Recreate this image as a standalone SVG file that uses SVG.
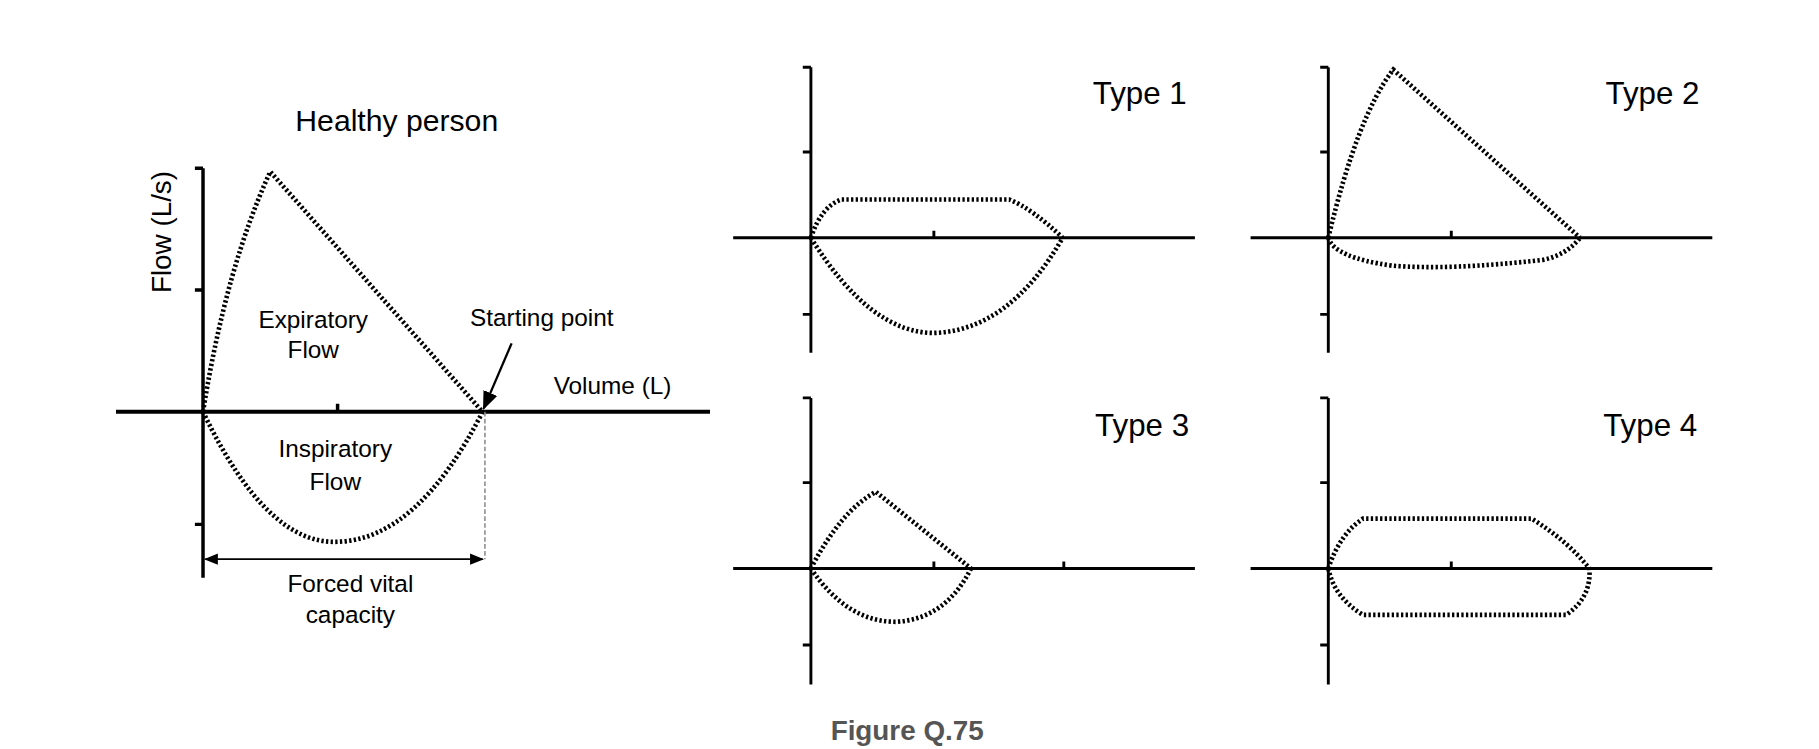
<svg xmlns="http://www.w3.org/2000/svg" width="1819" height="749" viewBox="0 0 1819 749">
<style>
text{font-family:"Liberation Sans",Arial,sans-serif;fill:#000}
.ax{stroke:#000;stroke-width:2.5;fill:none}
.cv{stroke:#000;stroke-width:4;stroke-dasharray:2 2;fill:none}
.t{font-size:21px;text-anchor:middle}
.ty{font-size:27px;text-anchor:end}
</style>
<defs>
<marker id="ah" viewBox="0 0 10 10" refX="9" refY="5" markerWidth="8" markerHeight="8" orient="auto-start-reverse"><path d="M0,1 L10,5 L0,9 z" fill="#000"/></marker>
</defs>
<rect width="1819" height="749" fill="#fff"/>
<g transform="scale(1.1601)">
<g id="healthy">
<path class="ax" d="M175,145V498M168,145H175M168,250H175M168,452H175M291,355V348" style="stroke-width:3"/>
<path d="M100,355H612" stroke="#000" stroke-width="3.5"/>
<path class="cv" d="M175,355 Q195,230 233,148 L416,355"/>
<path class="cv" d="M175,355 Q230,470 291,467 Q360,465 416,355"/>
<path d="M418,355V482" stroke="#888" stroke-width="1.3" stroke-dasharray="4 2"/>
<text class="t" x="342" y="113" style="font-size:26px">Healthy person</text>
<text class="t" transform="translate(147,200) rotate(-90)" style="font-size:24px">Flow  (L/s)</text>
<text class="t" x="270" y="283">Expiratory</text><text class="t" x="270" y="309">Flow</text>
<text class="t" x="467" y="281">Starting point</text>
<text class="t" x="528" y="340">Volume (L)</text>
<text class="t" x="289" y="394">Inspiratory</text><text class="t" x="289" y="422">Flow</text>
<text class="t" x="302" y="510">Forced vital</text><text class="t" x="302" y="537">capacity</text>
</g>
<g id="connectors">
<path d="M177,482H416" stroke="#000" stroke-width="1.5" marker-start="url(#ah)" marker-end="url(#ah)"/>
<path d="M441,296L417,352" stroke="#000" stroke-width="2" marker-end="url(#ah)"/>
</g>
<g id="type1">
<path class="ax" d="M699,58V304M692,58H699M692,131H699M692,271H699M632,205H1030M805,205V199"/>
<path class="cv" d="M699,205 Q708,178 725,172 L870,172 Q890,180 916,205"/>
<path class="cv" d="M699,205 Q750,287 805,287 Q870,285 916,205"/>
<text class="ty" x="1023" y="90">Type 1</text>
</g>
<g id="type2">
<path class="ax" d="M1145,58V304M1138,58H1145M1138,131H1145M1138,271H1145M1078,205H1476M1251,205V199"/>
<path class="cv" d="M1145,205 Q1170,100 1201,60 L1362,205"/>
<path class="cv" d="M1145,205 Q1150,222 1200,229 Q1250,233 1330,224 Q1350,220 1362,205"/>
<text class="ty" x="1465" y="90">Type 2</text>
</g>
<g id="type3">
<path class="ax" d="M699,343V590M692,343H699M692,416H699M692,556H699M632,490H1030M805,490V484M917,490V484"/>
<path class="cv" d="M699,490 Q725,440 755,424 L837,490"/>
<path class="cv" d="M699,490 Q730,536 772,536 Q815,534 837,490"/>
<text class="ty" x="1025" y="376">Type 3</text>
</g>
<g id="type4">
<path class="ax" d="M1145,343V590M1138,343H1145M1138,416H1145M1138,556H1145M1078,490H1476M1251,490V484"/>
<path class="cv" d="M1145,490 Q1155,460 1175,447 L1320,447 Q1350,465 1370,490 Q1372,515 1350,530 L1175,530 Q1150,515 1145,490 z"/>
<text class="ty" x="1463" y="376">Type 4</text>
</g>
<text x="782" y="638" font-size="24" font-weight="bold" text-anchor="middle" style="fill:#555">Figure Q.75</text>
</g>
</svg>
